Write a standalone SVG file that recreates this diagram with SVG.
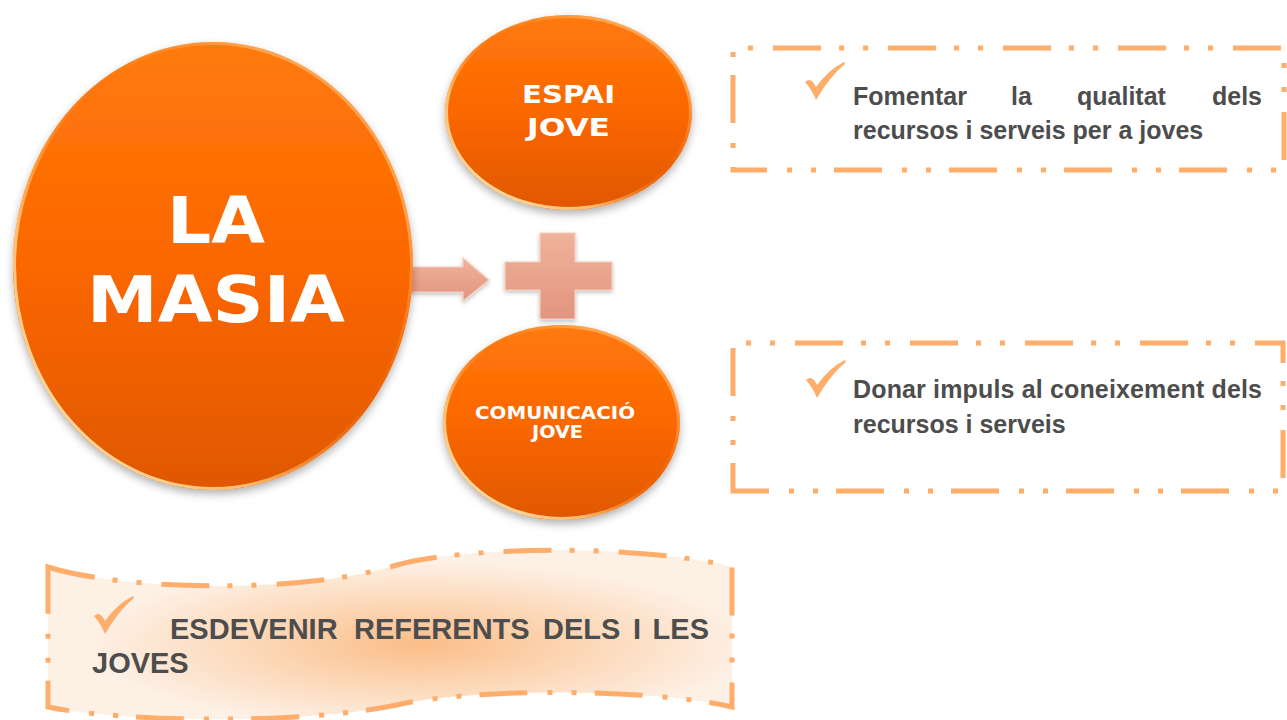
<svg xmlns="http://www.w3.org/2000/svg" width="1287" height="720" viewBox="0 0 1287 720">
<style>
.circ{fill:url(#orangeFill);filter:url(#shadow)}
.rim{fill:none;stroke:url(#rimGrad);stroke-width:3}
.ctext{font-family:"DejaVu Sans","Open Sans",sans-serif;font-weight:700;fill:#ffffff}
.dash{fill:none;stroke:#ffad6b;stroke-width:5;stroke-dasharray:48 18 5 19 5 20}
.btext{font-family:"Liberation Sans",Arial,sans-serif;font-weight:700;font-size:25px;fill:#4d4d4d}
.bbig{font-size:29px}
.check{fill:#ffad6b}
.salmon{fill:url(#salmonFill);stroke:#f7cdbb;stroke-width:1.2;filter:url(#shadowSmall)}
</style>
<defs>
<linearGradient id="orangeFill" x1="0" y1="0" x2="0" y2="1">
<stop offset="0" stop-color="#ff7a0c"/>
<stop offset="0.5" stop-color="#fb6700"/>
<stop offset="1" stop-color="#e05800"/>
</linearGradient>
<linearGradient id="rimGrad" x1="0" y1="1" x2="1" y2="0">
<stop offset="0" stop-color="#fff2c8" stop-opacity="1"/>
<stop offset="0.3" stop-color="#ffd48a" stop-opacity="0.8"/>
<stop offset="0.55" stop-color="#ff9a40" stop-opacity="0"/>
<stop offset="0.8" stop-color="#ffc27a" stop-opacity="0.6"/>
<stop offset="1" stop-color="#ffe0b0" stop-opacity="0.3"/>
</linearGradient>
<linearGradient id="salmonFill" x1="0" y1="0" x2="0" y2="1">
<stop offset="0" stop-color="#f0b29b"/>
<stop offset="1" stop-color="#e19580"/>
</linearGradient>
<radialGradient id="bannerFill" gradientUnits="userSpaceOnUse" cx="420" cy="645" r="330" gradientTransform="translate(420 645) scale(1 0.25) translate(-420 -645)">
<stop offset="0" stop-color="#fbbd88"/>
<stop offset="0.45" stop-color="#fcd5b2"/>
<stop offset="1" stop-color="#fdf0e5"/>
</radialGradient>
<filter id="shadow" x="-10%" y="-10%" width="120%" height="125%">
<feDropShadow dx="0" dy="4" stdDeviation="4" flood-color="#000" flood-opacity="0.3"/>
</filter>
<filter id="shadowSmall" x="-10%" y="-10%" width="120%" height="130%">
<feDropShadow dx="0" dy="2" stdDeviation="2" flood-color="#000" flood-opacity="0.25"/>
</filter>
<path id="tick" d="M0,19 Q6,13 11,24 Q23,7 39,-1 L40,1 Q25,13 11,37 Q7,27 0,19 Z"/>
</defs>

<g id="connectors">
<path id="arrow" class="salmon" d="M405,267 H463 V258 L489,280 L463,301 V292 H405 Z"/>
</g>

<g id="plus-sign">
<path class="salmon" d="M540,233 H575 V262 H612 V290 H575 V319 H540 V290 H505 V262 H540 Z"/>
</g>

<g id="node-la-masia">
<ellipse class="circ" cx="213" cy="266" rx="200" ry="224"/>
<ellipse class="rim" cx="213" cy="266" rx="198.5" ry="222.5"/>
<text class="ctext" x="167" y="243" font-size="64" textLength="98" lengthAdjust="spacingAndGlyphs">LA</text>
<text class="ctext" x="87" y="322" font-size="64" textLength="258" lengthAdjust="spacingAndGlyphs">MASIA</text>
</g>

<g id="node-espai-jove">
<ellipse class="circ" cx="568.5" cy="112.5" rx="123.5" ry="97.5"/>
<ellipse class="rim" cx="568.5" cy="112.5" rx="122" ry="96"/>
<text class="ctext" x="522" y="103" font-size="25" textLength="93" lengthAdjust="spacingAndGlyphs">ESPAI</text>
<text class="ctext" x="527" y="136" font-size="25" textLength="83" lengthAdjust="spacingAndGlyphs">JOVE</text>
</g>

<g id="node-comunicacio-jove">
<ellipse class="circ" cx="561.5" cy="422.5" rx="118.5" ry="97.5"/>
<ellipse class="rim" cx="561.5" cy="422.5" rx="117" ry="96"/>
<text class="ctext" x="475" y="419" font-size="17" textLength="160" lengthAdjust="spacingAndGlyphs">COMUNICACIÓ</text>
<text class="ctext" x="532" y="438" font-size="17" textLength="51" lengthAdjust="spacingAndGlyphs">JOVE</text>
</g>

<g id="box-fomentar">
<path class="dash" stroke-dashoffset="68" d="M733,170 V48 H1284 V170 Z"/>
<use href="#tick" class="check" x="805" y="63"/>
<text class="btext" y="105"><tspan x="853">Fomentar</tspan><tspan x="1011">la</tspan><tspan x="1077">qualitat</tspan><tspan x="1262" text-anchor="end">dels</tspan></text>
<text class="btext" x="853" y="139">recursos i serveis per a joves</text>
</g>

<g id="box-donar">
<path class="dash" stroke-dashoffset="20" d="M733,491 V343 H1283 V491 Z"/>
<use href="#tick" class="check" x="806" y="361"/>
<text class="btext" x="853" y="398" textLength="409" lengthAdjust="spacing">Donar impuls al coneixement dels</text>
<text class="btext" x="853" y="433">recursos i serveis</text>
</g>

<g id="banner-esdevenir">
<path fill="url(#bannerFill)" d="M48,567 C120,590 300,595 397,565 C470,545 650,545 732,567 L732,707 C650,688 470,688 397,705 C300,725 120,722 48,707 Z"/>
<path class="dash" d="M48,567 C120,590 300,595 397,565 C470,545 650,545 732,567 L732,707 C650,688 470,688 397,705 C300,725 120,722 48,707 Z"/>
<use href="#tick" class="check" x="94" y="597"/>
<text class="btext bbig" y="639"><tspan x="170">ESDEVENIR</tspan><tspan x="354">REFERENTS</tspan><tspan x="543">DELS</tspan><tspan x="633">I</tspan><tspan x="709" text-anchor="end">LES</tspan></text>
<text class="btext bbig" x="92" y="673">JOVES</text>
</g>
</svg>
